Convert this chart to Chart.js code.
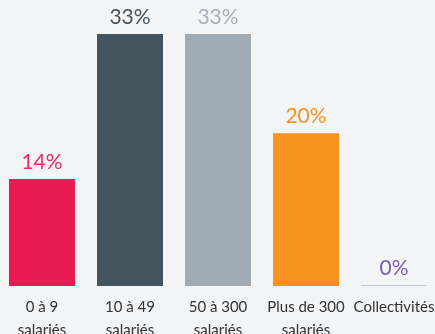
<!DOCTYPE html>
<html><head><meta charset="utf-8">
<script src="https://cdn.jsdelivr.net/npm/chart.js@4"></script>
<style>
html,body{margin:0;padding:0;background:#F3F4F6;overflow:hidden;width:435px;height:334px;}
#wrap{position:absolute;left:-2px;top:0;width:440px;height:334px;}
</style></head>
<body><div id="wrap"><canvas id="c"></canvas></div>
<script>
const categories = [["0 à 9","salariés"],["10 à 49","salariés"],["50 à 300","salariés"],["Plus de 300","salariés"],"Collectivités"];
const values = [14, 33, 33, 20, 0];
const valueLabels = ["14%","33%","33%","20%","0%"];
const barColors = ["#E81B55","#44545F","#A0ABB3","#F7931E","#CBC7DE"];
const labelColors = ["#EE2A60","#44545F","#A8B1B8","#F7931E","#7C5DA8"];

const FONT = "Lato, sans-serif";

const valuePlugin = {
  id:'valueLabels',
  afterDatasetsDraw(chart){
    const ctx = chart.ctx;
    const meta = chart.getDatasetMeta(0);
    ctx.save();
    ctx.font = "21px Lato, sans-serif";
    ctx.textAlign = 'center';
    ctx.textBaseline = 'alphabetic';
    meta.data.forEach((el,i)=>{
      ctx.fillStyle = labelColors[i];
      ctx.fillText(valueLabels[i], el.x, el.y - 10);
    });
    ctx.restore();
  }
};

new Chart(document.getElementById('c'),{
  type:'bar',
  data:{labels:categories,datasets:[{data:values,backgroundColor:barColors,barPercentage:0.75,categoryPercentage:1,minBarLength:1}]},
  options:{
    responsive:true,maintainAspectRatio:false,animation:false,
    layout:{padding:0},
    plugins:{legend:{display:false},tooltip:{enabled:false}},
    scales:{
      y:{display:false,min:0,max:37.45},
      x:{grid:{display:false},border:{display:false},
         afterFit(s){ s.height = 48; },
         ticks:{color:'#333',font:{family:FONT,size:15,lineHeight:'23px'},padding:2,maxRotation:0,autoSkip:false}}
    }
  },
  plugins:[valuePlugin]
});
</script></body></html>
